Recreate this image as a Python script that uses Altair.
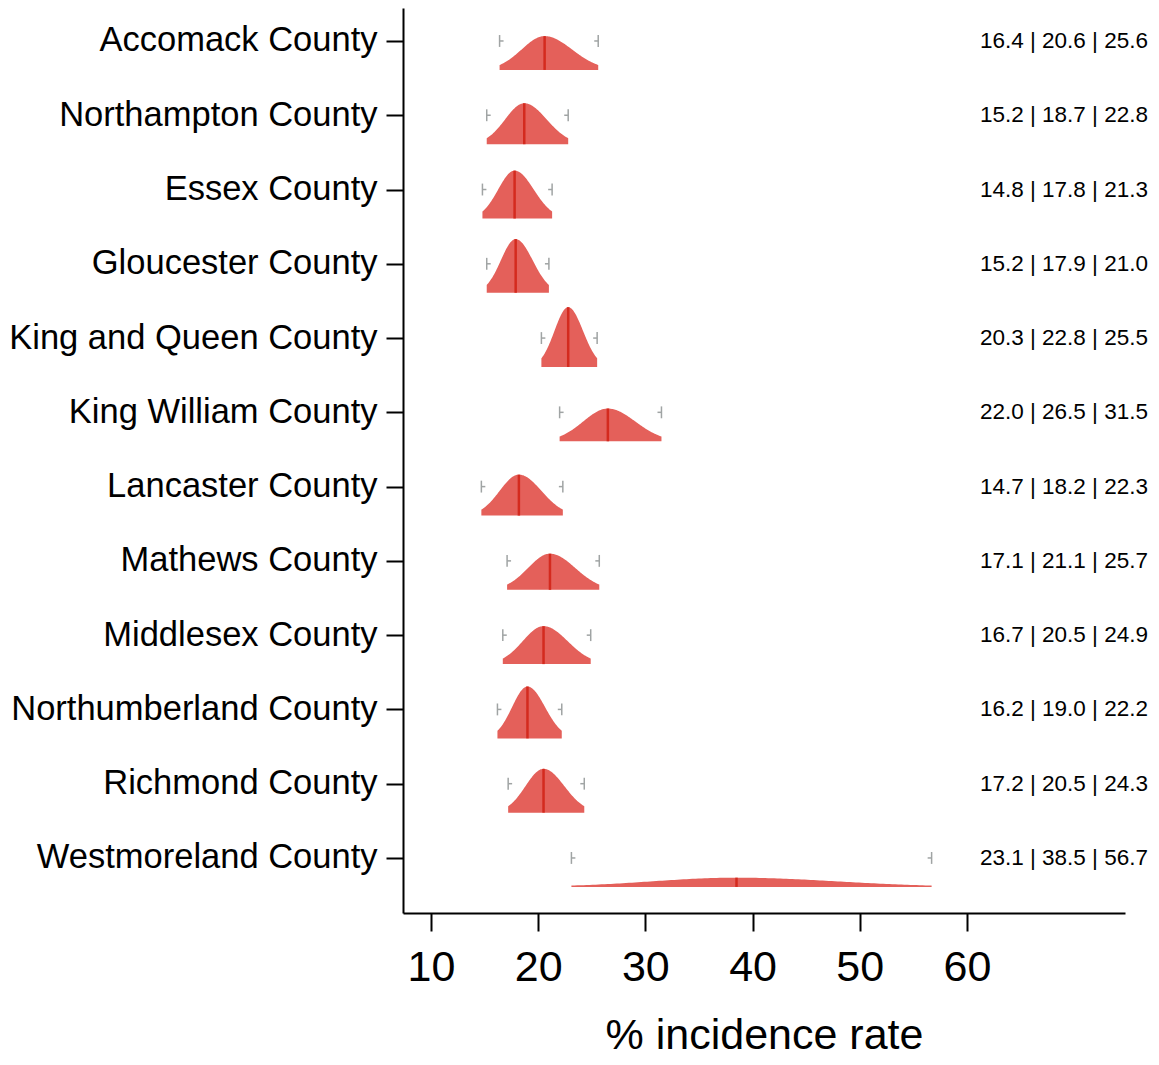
import altair as alt
import numpy as np
import pandas as pd

counties = [
    "Accomack County", "Northampton County", "Essex County", "Gloucester County",
    "King and Queen County", "King William County", "Lancaster County",
    "Mathews County", "Middlesex County", "Northumberland County",
    "Richmond County", "Westmoreland County",
]
lower = [16.4, 15.2, 14.8, 15.2, 20.3, 22.0, 14.7, 17.1, 16.7, 16.2, 17.2, 23.1]
median = [20.6, 18.7, 17.8, 17.9, 22.8, 26.5, 18.2, 21.1, 20.5, 19.0, 20.5, 38.5]
upper = [25.6, 22.8, 21.3, 21.0, 25.5, 31.5, 22.3, 25.7, 24.9, 22.2, 24.3, 56.7]
x_ticks = [10, 20, 30, 40, 50, 60]

X_MIN, X_MAX = 7.39, 74.74
Y_MIN, Y_MAX = -0.444, 11.741
BASE_OFF = 0.39      # baseline offset (rows) below category tick
DENS_K = 2.545       # rows per unit density
CAP = 0.08           # half-height of grey end markers (rows)
NUB = 0.37           # length of the marker nub (x units)

def split_normal(x, m, s1, s2):
    s = np.where(x < m, s1, s2)
    return 2.0 / (np.sqrt(2 * np.pi) * (s1 + s2)) * np.exp(-0.5 * ((x - m) / s) ** 2) / 0.95

rows = []
summ = []
for i, (c, l, m, u) in enumerate(zip(counties, lower, median, upper)):
    s1 = (m - l) / 1.96
    s2 = (u - m) / 1.96
    xs = np.linspace(l, u, 120)
    ds = split_normal(xs, m, s1, s2)
    base = i + BASE_OFF
    for xv, dv in zip(xs, ds):
        rows.append({"county": c, "x": float(xv), "base": base, "top": base - float(dv) * DENS_K})
    pk = float(split_normal(np.array([m]), m, s1, s2)[0])
    summ.append({
        "county": c, "row": i, "lower": l, "median": m, "upper": u,
        "base": base, "peak": base - pk * DENS_K,
        "cap_lo": i - CAP, "cap_hi": i + CAP,
        "lo_nub": l + NUB, "up_nub": u - NUB,
        "xr": X_MAX,
        "label": f"{l:.1f} | {m:.1f} | {u:.1f}",
    })

dens = pd.DataFrame(rows)
sdf = pd.DataFrame(summ)

label_arr = "[" + ",".join("'" + c + "'" for c in counties) + "]"

xscale = alt.Scale(domain=[X_MIN, X_MAX], nice=False, zero=False)
yscale = alt.Scale(domain=[Y_MIN, Y_MAX], nice=False, zero=False, reverse=True)

xaxis = alt.Axis(values=x_ticks, title="% incidence rate", grid=False,
                 labelFontSize=43, titleFontSize=43, titleFontWeight="normal",
                 tickSize=18, tickWidth=2, domainWidth=2, domainColor="black",
                 tickColor="black", labelColor="black", titleColor="black",
                 labelPadding=15, titlePadding=25, labelFont="Liberation Sans",
                 titleFont="Liberation Sans")
yaxis = alt.Axis(values=list(range(len(counties))), title=None, grid=False,
                 labelExpr=label_arr + "[datum.value]", labelLimit=1000,
                 labelFontSize=34.5, tickSize=17, tickWidth=2, domainWidth=2,
                 domainColor="black", tickColor="black", labelColor="black",
                 labelPadding=9, labelFont="Liberation Sans")

area = alt.Chart(dens).mark_area(color="#e4605a", opacity=1, orient="vertical").encode(
    x=alt.X("x:Q", scale=xscale, axis=xaxis),
    y=alt.Y("top:Q", scale=yscale, axis=yaxis),
    y2="base:Q",
    detail="county:N",
)

med = alt.Chart(sdf).mark_rule(color="#d42a1e", strokeWidth=2.5).encode(
    x="median:Q", y="peak:Q", y2="base:Q")

cap_lo = alt.Chart(sdf).mark_rule(color="#a0a4a4", strokeWidth=1.5).encode(
    x="lower:Q", y="cap_lo:Q", y2="cap_hi:Q")
cap_hi = alt.Chart(sdf).mark_rule(color="#a0a4a4", strokeWidth=1.5).encode(
    x="upper:Q", y="cap_lo:Q", y2="cap_hi:Q")
nub_lo = alt.Chart(sdf).mark_rule(color="#a0a4a4", strokeWidth=1.5).encode(
    x="lower:Q", x2="lo_nub:Q", y="row:Q")
nub_hi = alt.Chart(sdf).mark_rule(color="#a0a4a4", strokeWidth=1.5).encode(
    x="up_nub:Q", x2="upper:Q", y="row:Q")

txt = alt.Chart(sdf).mark_text(align="right", baseline="middle", dx=23, fontSize=22.5,
                               font="Liberation Sans", color="black").encode(
    x="xr:Q", y="row:Q", text="label:N")

chart = alt.layer(area, med, cap_lo, cap_hi, nub_lo, nub_hi, txt).properties(
    width=722, height=905, background="white",
    autosize=alt.AutoSizeParams(type="none"),
    padding={"left": 395, "top": 0, "right": 25, "bottom": 143},
).configure_view(strokeWidth=0, stroke=None)

chart.save("out.html", embed_options={"renderer": "svg", "actions": False})
